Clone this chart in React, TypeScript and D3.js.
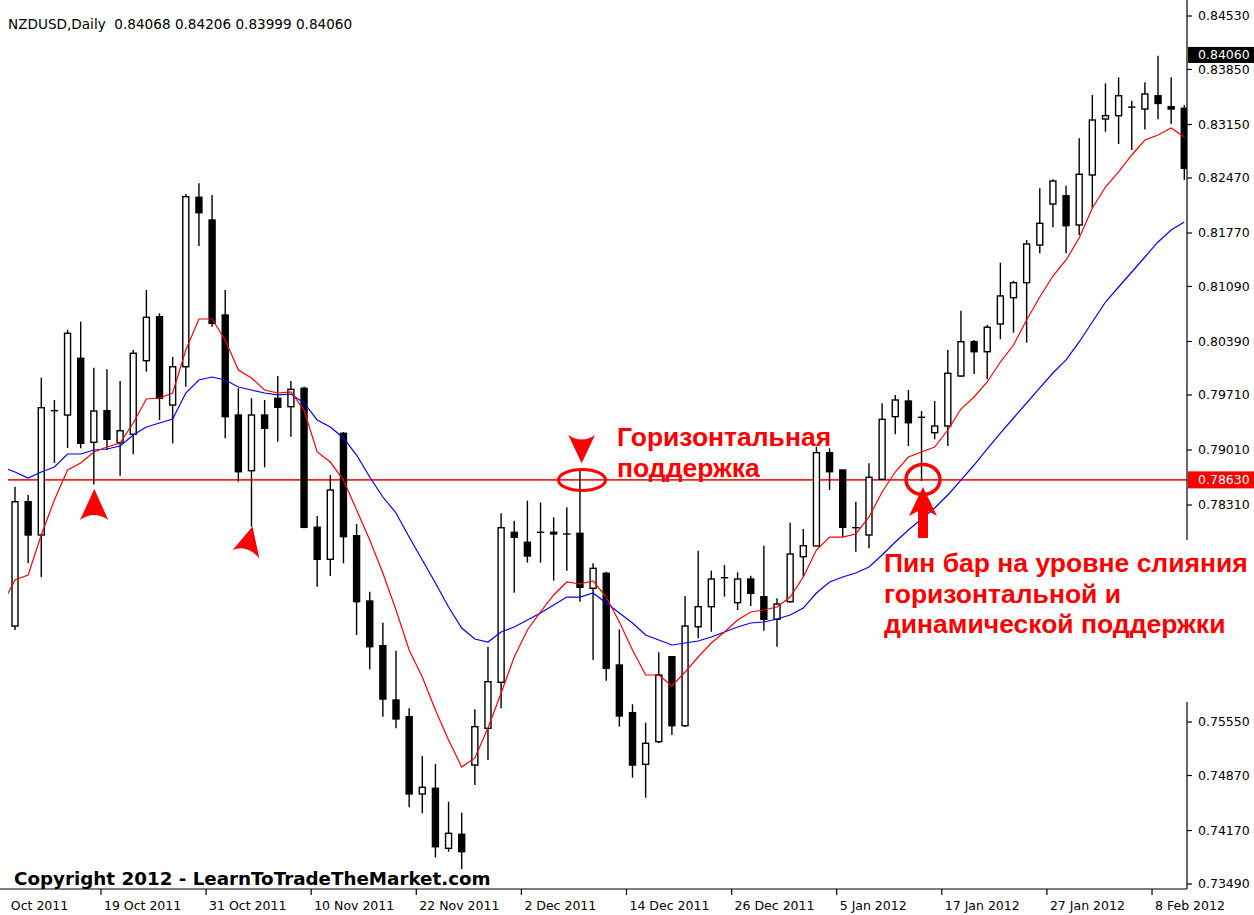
import React from "react";
import * as d3 from "d3";

// ---------- data ----------
// bar 0 = 7 Oct 2011 (off the left edge), bars 1..90 are the drawn candles
const openPrices = [
  0.76771, 0.78352, 0.77929, 0.79506, 0.79455, 0.80176, 0.79108, 0.7951, 0.79103, 0.7921,
  0.80146, 0.80705, 0.79582, 0.80069, 0.82224, 0.81935, 0.80727, 0.79455, 0.78747, 0.79455,
  0.79668, 0.79561, 0.79795, 0.78027, 0.7762, 0.79222, 0.7792, 0.77089, 0.76521, 0.7583,
  0.75618, 0.74635, 0.74707, 0.73944, 0.74122, 0.75003, 0.7547, 0.76055, 0.77963, 0.77836,
  0.77967, 0.77963, 0.77945, 0.7795, 0.77251, 0.77442, 0.76275, 0.75669, 0.75012, 0.753,
  0.76381, 0.75503, 0.76762, 0.77017, 0.77382, 0.77068, 0.77369, 0.77144, 0.76857, 0.77081,
  0.77653, 0.77789, 0.78976, 0.78756, 0.78026, 0.77929, 0.78637, 0.79434, 0.79633, 0.7943,
  0.7923, 0.79315, 0.79951, 0.80387, 0.8026, 0.80613, 0.80947, 0.81138, 0.81617, 0.82139,
  0.82244, 0.81872, 0.82508, 0.8322, 0.83262, 0.83369, 0.83347, 0.83516, 0.83376, 0.83356,
];
const highPrices = [
  0.78543, 0.78438, 0.7993, 0.79646, 0.80536, 0.80642, 0.80057, 0.80036, 0.79888, 0.80282,
  0.81045, 0.80749, 0.80193, 0.82266, 0.82402, 0.82253, 0.81045, 0.79795, 0.79668, 0.79646,
  0.79951, 0.79888, 0.79815, 0.78171, 0.78692, 0.79239, 0.78069, 0.77208, 0.76813, 0.76457,
  0.75725, 0.75118, 0.75016, 0.74537, 0.74397, 0.75712, 0.76508, 0.78205, 0.78111, 0.78365,
  0.7834, 0.78154, 0.78281, 0.78756, 0.77569, 0.77462, 0.76729, 0.75776, 0.75542, 0.76437,
  0.76381, 0.77153, 0.77729, 0.77475, 0.77547, 0.77454, 0.77411, 0.77793, 0.77124, 0.78085,
  0.78005, 0.79052, 0.79032, 0.78756, 0.78352, 0.78841, 0.79604, 0.7971, 0.79773, 0.79506,
  0.79633, 0.80282, 0.80782, 0.80409, 0.806, 0.81392, 0.81163, 0.81681, 0.82339, 0.82453,
  0.82372, 0.82975, 0.83525, 0.83674, 0.8375, 0.83453, 0.83687, 0.84025, 0.8375, 0.83398,
];
const lowPrices = [
  0.76721, 0.77573, 0.77395, 0.78845, 0.79035, 0.79032, 0.7857, 0.7901, 0.78683, 0.78955,
  0.80006, 0.79392, 0.79095, 0.79815, 0.81605, 0.80578, 0.79159, 0.78607, 0.78034, 0.7879,
  0.79116, 0.79179, 0.78014, 0.77271, 0.77407, 0.77569, 0.76657, 0.76221, 0.75618, 0.7547,
  0.74466, 0.74389, 0.7383, 0.73901, 0.73681, 0.74749, 0.75067, 0.75725, 0.77195, 0.77577,
  0.77577, 0.77348, 0.77475, 0.77081, 0.76339, 0.76076, 0.75491, 0.74842, 0.74588, 0.7528,
  0.75385, 0.75491, 0.76615, 0.76699, 0.77144, 0.76975, 0.77026, 0.76712, 0.76508, 0.77068,
  0.77398, 0.77789, 0.78501, 0.779, 0.77716, 0.7776, 0.78637, 0.7921, 0.79061, 0.78616,
  0.79146, 0.79061, 0.79942, 0.79977, 0.79909, 0.80418, 0.80502, 0.80375, 0.81512, 0.81843,
  0.81512, 0.81745, 0.82084, 0.83058, 0.82902, 0.82826, 0.83086, 0.83216, 0.83156, 0.82444,
];
const closePrices = [
  0.78352, 0.77929, 0.79548, 0.79515, 0.80494, 0.79095, 0.79506, 0.79146, 0.79255, 0.8024,
  0.80698, 0.79668, 0.80069, 0.82232, 0.82028, 0.80621, 0.79434, 0.78734, 0.79455, 0.79286,
  0.79553, 0.79782, 0.78027, 0.7762, 0.78501, 0.77907, 0.77081, 0.76508, 0.75843, 0.75589,
  0.74635, 0.7472, 0.73964, 0.74135, 0.73901, 0.75491, 0.76063, 0.78022, 0.779, 0.77662,
  0.77959, 0.77942, 0.77938, 0.77264, 0.77505, 0.76233, 0.75627, 0.75003, 0.7528, 0.76148,
  0.75503, 0.76771, 0.77017, 0.77369, 0.77389, 0.77369, 0.77187, 0.76857, 0.77051, 0.77687,
  0.77793, 0.78976, 0.78734, 0.78027, 0.78018, 0.78663, 0.794, 0.79646, 0.79357, 0.79422,
  0.79315, 0.79986, 0.80387, 0.8026, 0.80571, 0.80969, 0.81138, 0.8163, 0.81893, 0.82431,
  0.81863, 0.82517, 0.83207, 0.83262, 0.83516, 0.83374, 0.83538, 0.83418, 0.83347, 0.82593,
];
// moving averages, bars 0..90
const fastMA = [
  0.77039, 0.77357, 0.7742, 0.77929, 0.78374, 0.78756, 0.78845, 0.78985, 0.79048, 0.79099,
  0.79353, 0.79659, 0.79671, 0.79735, 0.80282, 0.80676, 0.80676, 0.80409, 0.80028, 0.79926,
  0.79773, 0.79735, 0.79748, 0.79519, 0.78985, 0.78857, 0.78628, 0.78247, 0.77865, 0.77446,
  0.76975, 0.76466, 0.76123, 0.75703, 0.75321, 0.74978, 0.75093, 0.75474, 0.75919, 0.76377,
  0.76721, 0.7695, 0.77166, 0.77331, 0.77306, 0.77344, 0.7714, 0.76822, 0.76466, 0.76148,
  0.76148, 0.76008, 0.76186, 0.76377, 0.76555, 0.76695, 0.76848, 0.7695, 0.76975, 0.77013,
  0.7714, 0.77395, 0.77738, 0.77903, 0.77903, 0.77942, 0.78158, 0.78476, 0.7873, 0.78921,
  0.78985, 0.79048, 0.79264, 0.79531, 0.79684, 0.79875, 0.80129, 0.80345, 0.80663, 0.80956,
  0.81223, 0.81427, 0.81706, 0.82088, 0.82355, 0.82546, 0.82762, 0.82953, 0.83016, 0.83106,
  0.82991,
];
const slowMA = [
  0.78794, 0.7873, 0.78654, 0.7873, 0.78794, 0.78959, 0.78959, 0.7901, 0.79023, 0.79061,
  0.79201, 0.79303, 0.79353, 0.79404, 0.79735, 0.799, 0.79938, 0.799, 0.79811, 0.79773,
  0.79735, 0.7971, 0.79722, 0.79608, 0.79392, 0.79303, 0.79163, 0.78946, 0.78667, 0.78412,
  0.78209, 0.77903, 0.77611, 0.77318, 0.77013, 0.76746, 0.76606, 0.76568, 0.76695, 0.76759,
  0.76848, 0.76937, 0.77039, 0.7714, 0.7714, 0.77191, 0.77064, 0.76937, 0.7681, 0.76657,
  0.76593, 0.7653, 0.76555, 0.76581, 0.76632, 0.76695, 0.76759, 0.7681, 0.76822, 0.7686,
  0.76911, 0.77, 0.77191, 0.77331, 0.77395, 0.77446, 0.77522, 0.77675, 0.7784, 0.77992,
  0.78132, 0.78272, 0.78438, 0.78628, 0.78819, 0.79023, 0.79226, 0.79417, 0.79608, 0.79799,
  0.79989, 0.80155, 0.80384, 0.80638, 0.80892, 0.81083, 0.81274, 0.81465, 0.81656, 0.81808,
  0.8191,
];
const priceTicks = [
  0.8453, 0.8385, 0.8315, 0.8247, 0.8177, 0.8109, 0.8039, 0.7971, 0.7901, 0.7831,
  0.7555, 0.7487, 0.7417, 0.7349,
];
const timeTickLabels = [
  "7 Oct 2011", "19 Oct 2011", "31 Oct 2011", "10 Nov 2011", "22 Nov 2011", "2 Dec 2011",
  "14 Dec 2011", "26 Dec 2011", "5 Jan 2012", "17 Jan 2012", "27 Jan 2012", "8 Feb 2012",
];
const timeTickBars = [0, 8, 16, 24, 32, 40, 48, 56, 64, 72, 80, 88];
const supportLevel = 0.7863;
const lastPrice = 0.8406;
const titleText = "NZDUSD,Daily  0.84068 0.84206 0.83999 0.84060";
const copyrightText = "Copyright 2012 - LearnToTradeTheMarket.com";
const note1 = ["Горизонтальная", "поддержка"];
const note2 = ["Пин бар на уровне слияния", "горизонтальной и", "динамической поддержки"];

export default function App() {
  const W = 1254;
  const H = 915;
  const plotLeft = 8;
  const axisX = 1187;
  const axisY = 889;
  const lastBar = openPrices.length;

  const x = d3.scaleLinear().domain([0, lastBar]).range([1.86, 1184.3]);
  const y = d3.scaleLinear().domain([0.7349, 0.8453]).range([884, 16]);

  const maLine = d3
    .line<number>()
    .x((_, i) => x(i))
    .y((d) => y(d));

  const axisFont = "DejaVu Sans";
  const noteFont = "Liberation Sans, Arial, sans-serif";
  const bodyW = 6;

  const candles = openPrices.map((o, i) => {
    const h = highPrices[i];
    const l = lowPrices[i];
    const c = closePrices[i];
    const cx = x(i + 1);
    const top = y(Math.max(o, c));
    const bot = y(Math.min(o, c));
    const bull = c >= o;
    return (
      <g key={i}>
        <line x1={cx} x2={cx} y1={y(h)} y2={y(l)} stroke="#000" strokeWidth={1.4} />
        {bot - top < 1.3 ? (
          <line x1={cx - bodyW / 2 - 0.7} x2={cx + bodyW / 2 + 0.7} y1={(top + bot) / 2} y2={(top + bot) / 2} stroke="#000" strokeWidth={1.4} />
        ) : (
          <rect x={cx - bodyW / 2} y={top} width={bodyW} height={bot - top} fill={bull ? "#fff" : "#000"} stroke="#000" strokeWidth={1.4} />
        )}
      </g>
    );
  });

  const ySup = y(supportLevel);
  const yLast = y(lastPrice);

  return (
    <svg
      width={W}
      height={H}
      viewBox={`0 0 ${W} ${H}`}
      style={{ position: "absolute", left: 0, top: 0, background: "#fff" }}
    >
      <defs>
        <clipPath id="plot">
          <rect x={plotLeft} y={0} width={axisX - plotLeft} height={axisY} />
        </clipPath>
        <clipPath id="timeclip">
          <rect x={plotLeft} y={axisY} width={W - plotLeft} height={H - axisY} />
        </clipPath>
      </defs>
      <rect x={0} y={0} width={W} height={H} fill="#fff" />

      {/* title */}
      <text x={8} y={29} fontFamily={axisFont} fontSize={13.6} fill="#000" style={{ whiteSpace: "pre" }}>
        {titleText}
      </text>

      <g clipPath="url(#plot)">
        {/* support level */}
        <line x1={plotLeft} x2={axisX} y1={ySup} y2={ySup} stroke="#ff2020" strokeWidth={1.8} />
        {candles}
        <path d={maLine(slowMA) || ""} fill="none" stroke="#0000ff" strokeWidth={1.2} />
        <path d={maLine(fastMA) || ""} fill="none" stroke="#ff0000" strokeWidth={1.2} />
      </g>

      {/* axes */}
      <line x1={axisX} x2={axisX} y1={0} y2={axisY} stroke="#000" strokeWidth={1.2} />
      <line x1={0} x2={axisX} y1={axisY} y2={axisY} stroke="#000" strokeWidth={1.2} />
      {priceTicks.map((t) => (
        <g key={t}>
          <line x1={axisX} x2={axisX + 5} y1={y(t)} y2={y(t)} stroke="#000" strokeWidth={1.2} />
          <text x={1198} y={y(t)} dy="0.35em" fontFamily={axisFont} fontSize={12.5} fill="#000">
            {t.toFixed(5)}
          </text>
        </g>
      ))}
      <g clipPath="url(#timeclip)">
        {timeTickBars.map((b, i) => {
          const tx = x(b) - 3;
          return (
            <g key={b}>
              <line x1={tx - 3} x2={tx - 3} y1={axisY} y2={axisY + 6} stroke="#000" strokeWidth={1.2} />
              <text x={tx} y={910} fontFamily={axisFont} fontSize={12.5} fill="#000">
                {timeTickLabels[i]}
              </text>
            </g>
          );
        })}
      </g>

      {/* price boxes */}
      <rect x={1188} y={yLast + 2 - 8} width={W - 1188} height={16} fill="#000" />
      <text x={1198} y={yLast + 2} dy="0.35em" fontFamily={axisFont} fontSize={12.5} fill="#fff">
        {lastPrice.toFixed(5)}
      </text>
      <rect x={1188} y={ySup - 8.5} width={W - 1188} height={17} fill="#ff0000" />
      <text x={1198} y={ySup} dy="0.35em" fontFamily={axisFont} fontSize={12.5} fill="#fff">
        {supportLevel.toFixed(5)}
      </text>

      {/* annotation markers */}
      <g fill="#ff0000" stroke="none">
        <path d="M94.3,489 L108.3,520 Q94.3,510 80,520 Z" />
        <path d="M252.5,526.5 L259.3,558.3 Q247,544 232.7,550 Z" />
        <path d="M568.3,435 Q581.7,444 595,435 L581.7,463.3 Z" />
        <path d="M923,487 L937,516 L928,511 L928,538 L918,538 L918,511 L909,516 Z" />
      </g>
      <ellipse cx={582} cy={480} rx={23.5} ry={10.5} fill="none" stroke="#ff0000" strokeWidth={3} />
      <ellipse cx={923} cy={479.5} rx={17} ry={15} fill="none" stroke="#ff0000" strokeWidth={3.5} />

      {/* break in price axis behind annotation */}
      <rect x={1180} y={540} width={W - 1180} height={162} fill="#fff" />

      <g fontFamily={noteFont} fontWeight="bold" fontSize={26.5} fill="#ff0000">
        {note1.map((s, i) => (
          <text key={s} x={617} y={446 + i * 31}>
            {s}
          </text>
        ))}
        {note2.map((s, i) => (
          <text key={s} x={884} y={572 + i * 30.5}>
            {s}
          </text>
        ))}
      </g>

      <text x={14} y={885} fontFamily="DejaVu Sans" fontWeight="bold" fontSize={18.3} fill="#000">
        {copyrightText}
      </text>
    </svg>
  );
}
